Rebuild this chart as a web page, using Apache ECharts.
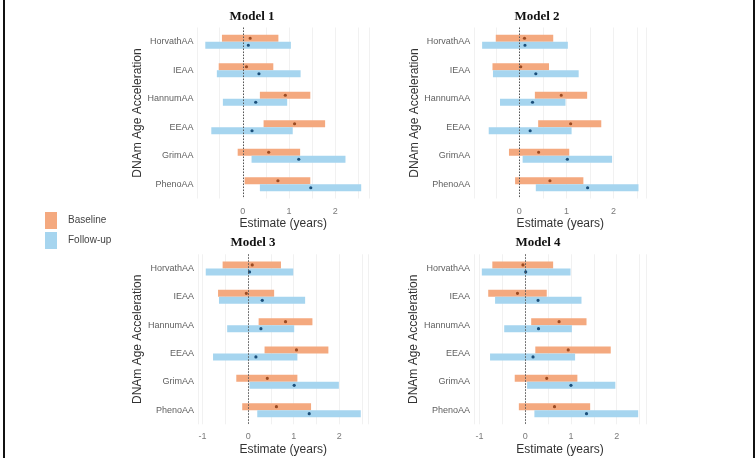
<!DOCTYPE html>
<html><head><meta charset="utf-8">
<script src="https://cdn.jsdelivr.net/npm/echarts@6/dist/echarts.min.js"></script>
<style>html,body{margin:0;padding:0;background:#fff}#c{width:756px;height:458px}</style>
</head><body><div id="c"></div>
<script>
const categories = ['HorvathAA','IEAA','HannumAA','EEAA','GrimAA','PhenoAA'];
const modelTitles = ['Model 1','Model 2','Model 3','Model 4'];
const groupNames = ['Baseline','Follow-up'];

// Model 1
const m1BaseLow   = [-0.45,-0.52,0.37,0.45,-0.11,0.04];
const m1BaseHigh  = [0.77,0.66,1.46,1.78,1.24,1.46];
const m1BaseEst   = [0.16,0.08,0.92,1.12,0.56,0.76];
const m1FollowLow = [-0.81,-0.56,-0.43,-0.68,0.19,0.37];
const m1FollowHigh= [1.04,1.25,0.96,1.08,2.22,2.56];
const m1FollowEst = [0.12,0.35,0.28,0.20,1.21,1.47];
// Model 2
const m2BaseLow   = [-0.50,-0.57,0.33,0.40,-0.22,-0.09];
const m2BaseHigh  = [0.72,0.63,1.44,1.74,1.06,1.36];
const m2BaseEst   = [0.11,0.03,0.89,1.09,0.41,0.65];
const m2FollowLow = [-0.79,-0.56,-0.41,-0.65,0.07,0.35];
const m2FollowHigh= [1.03,1.26,0.98,1.11,1.97,2.53];
const m2FollowEst = [0.12,0.35,0.28,0.23,1.02,1.45];
// Model 3
const m3BaseLow   = [-0.56,-0.66,0.23,0.36,-0.26,-0.13];
const m3BaseHigh  = [0.72,0.57,1.41,1.76,1.08,1.38];
const m3BaseEst   = [0.09,-0.04,0.82,1.06,0.42,0.62];
const m3FollowLow = [-0.93,-0.64,-0.46,-0.77,0.03,0.20];
const m3FollowHigh= [0.99,1.25,1.01,1.08,1.99,2.47];
const m3FollowEst = [0.03,0.31,0.28,0.17,1.01,1.34];
// Model 4
const m4BaseLow   = [-0.72,-0.81,0.13,0.22,-0.23,-0.14];
const m4BaseHigh  = [0.61,0.47,1.34,1.87,1.14,1.42];
const m4BaseEst   = [-0.05,-0.17,0.74,0.94,0.47,0.64];
const m4FollowLow = [-0.95,-0.66,-0.46,-0.77,0.04,0.20];
const m4FollowHigh= [0.99,1.23,1.02,1.09,1.97,2.47];
const m4FollowEst = [0.01,0.28,0.29,0.17,1.00,1.34];

const models = [
  {base:[m1BaseLow,m1BaseHigh,m1BaseEst], follow:[m1FollowLow,m1FollowHigh,m1FollowEst]},
  {base:[m2BaseLow,m2BaseHigh,m2BaseEst], follow:[m2FollowLow,m2FollowHigh,m2FollowEst]},
  {base:[m3BaseLow,m3BaseHigh,m3BaseEst], follow:[m3FollowLow,m3FollowHigh,m3FollowEst]},
  {base:[m4BaseLow,m4BaseHigh,m4BaseEst], follow:[m4FollowLow,m4FollowHigh,m4FollowEst]}
];

const ORANGE = '#F4A97F', BLUE = '#A6D5EF';
const ORANGE_DOT = '#9A4A22', BLUE_DOT = '#1B4F7A';

// layout (pixels)
const grids = [
  {left:197.5, top:27.5, width:171.5, height:171},
  {left:474.3, top:27.5, width:172, height:171},
  {left:198,   top:254.3, width:170.5, height:170},
  {left:474,   top:254.3, width:172, height:170}
];
const titlePos = [[252,10],[537,10],[253,236],[538,236]];
const yNameGap = [49.5, 54, 50, 54];
const xLabelMargin = [9, 9, 8, 8];
const xNameGap = [18.5, 18.5, 19.5, 19.5];

function render(side, fill, dot) {
  return function (params, api) {
    const cat = api.value(0);
    const p1 = api.coord([api.value(1), cat]);
    const p2 = api.coord([api.value(2), cat]);
    const pe = api.coord([api.value(3), cat]);
    const h = 7;
    const y0 = side < 0 ? p1[1] - h : p1[1];
    return {type:'group', children:[
      {type:'rect', shape:{x:p1[0], y:y0, width:p2[0]-p1[0], height:h}, style:{fill:fill}},
      {type:'circle', shape:{cx:pe[0], cy:y0 + h/2, r:1.6}, style:{fill:dot}}
    ]};
  };
}

const option = {
  backgroundColor:'#fff',
  animation:false,
  title: modelTitles.map((t,i)=>({
    text:t, left:titlePos[i][0], top:titlePos[i][1], textAlign:'center', padding:0,
    textStyle:{fontFamily:'Liberation Serif', fontWeight:'bold', fontSize:13, color:'#111'}
  })),
  legend:{
    data:groupNames, orient:'vertical', left:45, top:212, padding:0, itemWidth:12, itemHeight:17, itemGap:3,
    icon:'rect', textStyle:{fontFamily:'Liberation Sans', fontSize:10, color:'#444', padding:[0,0,0,6]}
  },
  graphic:[
    {type:'rect', shape:{x:3, y:0, width:2, height:458}, style:{fill:'#111'}},
    {type:'rect', shape:{x:753, y:0, width:2, height:458}, style:{fill:'#111'}}
  ],
  grid: grids,
  xAxis: [], yAxis: [], series: []
};

models.forEach((m, i) => {
  const all = m.base[0].concat(m.base[1], m.follow[0], m.follow[1]);
  const lo = Math.min(...all), hi = Math.max(...all);
  const pad = (hi - lo) * 0.05;
  option.xAxis.push({
    type:'value', gridIndex:i, min: lo - pad, max: hi + pad, splitNumber:7,
    name:'Estimate (years)', nameLocation:'middle', nameGap:xNameGap[i],
    nameTextStyle:{fontFamily:'Liberation Sans', fontSize:12, color:'#333'},
    axisLine:{show:false}, axisTick:{show:false},
    axisLabel:{margin:xLabelMargin[i], fontFamily:'Liberation Sans', fontSize:9, color:'#7a7a7a',
      showMinLabel:false, showMaxLabel:false,
      formatter: v => Math.abs(v - Math.round(v)) < 1e-6 ? String(Math.round(v)) : ''},
    splitLine:{show:true, lineStyle:{color:'#eeeeee', width:0.8}}
  });
  option.yAxis.push({
    type:'category', gridIndex:i, data:categories, inverse:true,
    name:'DNAm Age Acceleration', nameLocation:'middle', nameGap:yNameGap[i], nameRotate:90,
    nameTextStyle:{fontFamily:'Liberation Sans', fontSize:12, color:'#333'},
    axisLine:{show:false}, axisTick:{show:false},
    axisLabel:{margin:4, fontFamily:'Liberation Sans', fontSize:9, color:'#5f5f5f'},
    splitLine:{show:false}
  });
  const mk = (arr, side, name, fill, dot, withLine) => {
    const s = {
      type:'custom', name:name, xAxisIndex:i, yAxisIndex:i,
      itemStyle:{color:fill},
      renderItem: render(side, fill, dot),
      encode:{x:[1,2,3], y:0},
      data: categories.map((c, k) => [k, arr[0][k], arr[1][k], arr[2][k]]),
      z:2
    };
    if (withLine) {
      s.markLine = {silent:true, symbol:'none', label:{show:false}, z:5,
        lineStyle:{type:[1.5,1.5], color:'#555', width:1}, data:[{xAxis:0}]};
    }
    return s;
  };
  option.series.push(mk(m.base, -1, 'Baseline', ORANGE, ORANGE_DOT, false));
  option.series.push(mk(m.follow, 1, 'Follow-up', BLUE, BLUE_DOT, true));
});

const chart = echarts.init(document.getElementById('c'), null, {renderer:'canvas'});
chart.setOption(option);
</script>
</body></html>
